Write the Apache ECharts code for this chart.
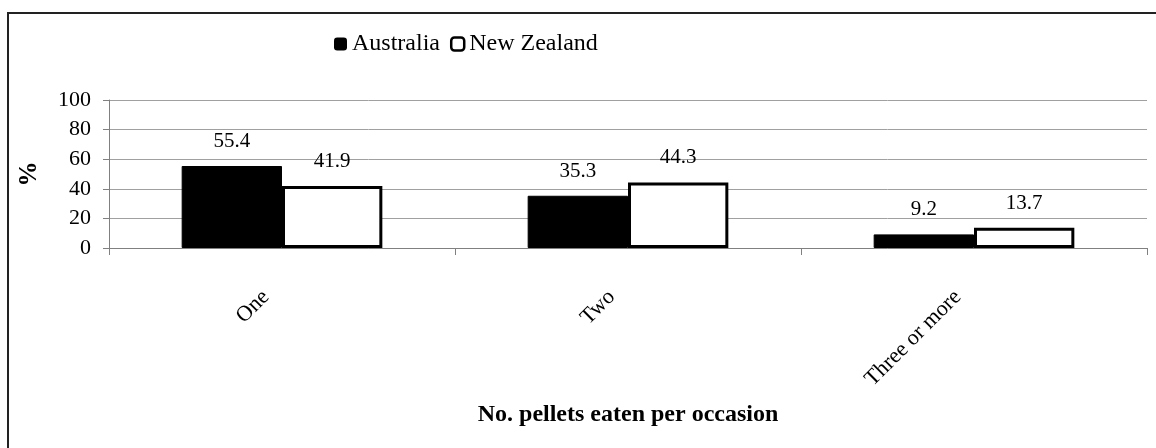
<!DOCTYPE html>
<html>
<head>
<meta charset="utf-8">
<script src="https://cdn.jsdelivr.net/npm/echarts@6/dist/echarts.min.js"></script>
<style>
html,body{margin:0;padding:0;background:#fff;}
#chart{width:1156px;height:448px;}
</style>
</head>
<body>
<div id="chart"></div>
<script>
const categories = ['One', 'Two', 'Three or more'];
const australia = [55.4, 35.3, 9.2];
const newZealand = [41.9, 44.3, 13.7];
const seriesNames = ['Australia', 'New Zealand'];
const yTicks = [0, 20, 40, 60, 80, 100];

const FONT = '"Liberation Serif", "Times New Roman", serif';
const chart = echarts.init(document.getElementById('chart'), null, {renderer: 'canvas'});

const labelStyle = {
  show: true,
  position: 'top',
  distance: 14,
  fontFamily: FONT,
  fontSize: 21,
  color: '#000',
  formatter: p => p.value.toFixed(1)
};

chart.setOption({
  animation: false,
  backgroundColor: '#fff',
  graphic: [{
    type: 'rect',
    silent: true,
    shape: {x: 8, y: 13, width: 1170, height: 460},
    style: {fill: 'none', stroke: '#222', lineWidth: 2}
  }],
  legend: {
    left: 334,
    top: 32,
    padding: 0,
    itemWidth: 13,
    itemHeight: 13,
    itemGap: 10,
    textStyle: {fontFamily: FONT, fontSize: 24, color: '#000'},
    data: [
      {name: seriesNames[0], icon: 'roundRect', itemStyle: {color: '#000', borderColor: '#000', borderWidth: 0}},
      {name: seriesNames[1], icon: 'roundRect', itemStyle: {color: '#fff', borderColor: '#000', borderWidth: 2.5}}
    ]
  },
  grid: {left: 109, right: 9, top: 100, bottom: 200, containLabel: false},
  xAxis: {
    type: 'category',
    data: categories,
    name: 'No. pellets eaten per occasion',
    nameLocation: 'middle',
    nameGap: 155,
    nameTextStyle: {fontFamily: FONT, fontSize: 24, fontWeight: 'bold', color: '#000'},
    axisLine: {show: true, lineStyle: {color: '#808080', width: 1}},
    axisTick: {show: true, length: 7, lineStyle: {color: '#808080'}},
    axisLabel: {rotate: 45, margin: 62, verticalAlign: 'bottom', padding: [0, 0, 12, 0], fontFamily: FONT, fontSize: 22, color: '#000'},
    splitLine: {show: false}
  },
  yAxis: {
    type: 'value',
    min: yTicks[0],
    max: yTicks[yTicks.length - 1],
    interval: yTicks[1] - yTicks[0],
    name: '%',
    nameLocation: 'middle',
    nameRotate: 90,
    nameGap: 67,
    nameTextStyle: {fontFamily: FONT, fontSize: 25, fontWeight: 'bold', color: '#000'},
    axisLine: {show: true, lineStyle: {color: '#808080', width: 1}},
    axisTick: {show: true, length: 6, lineStyle: {color: '#808080'}},
    axisLabel: {margin: 18, fontFamily: FONT, fontSize: 22, color: '#000'},
    splitLine: {show: true, lineStyle: {color: '#a0a0a0', width: 1}}
  },
  series: [
    {
      name: seriesNames[0],
      type: 'bar',
      data: australia,
      barGap: '0%',
      barCategoryGap: '42%',
      itemStyle: {color: '#000', borderColor: '#000', borderWidth: 1},
      label: labelStyle
    },
    {
      name: seriesNames[1],
      type: 'bar',
      data: newZealand,
      barGap: '0%',
      barCategoryGap: '42%',
      itemStyle: {color: '#fff', borderColor: '#000', borderWidth: 3},
      label: labelStyle
    }
  ]
});
</script>
</body>
</html>
